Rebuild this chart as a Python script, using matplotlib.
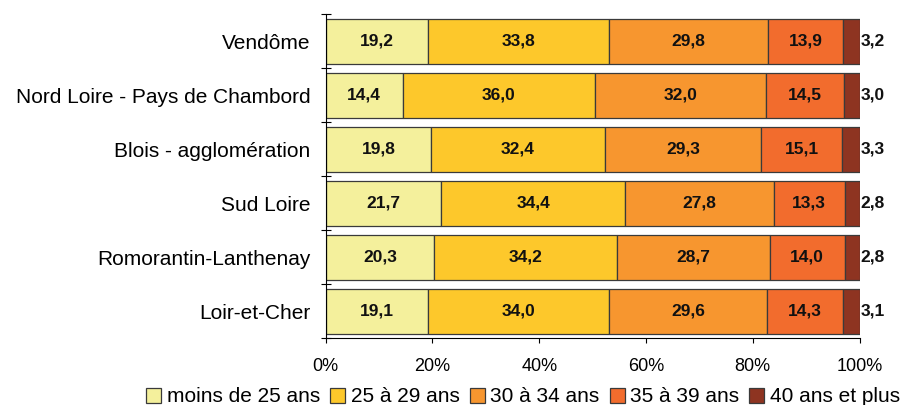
import numpy as np
import matplotlib.pyplot as plt

plt.rcParams['font.family'] = ['Liberation Sans', 'DejaVu Sans']

zones = ['Vendôme', 'Nord Loire - Pays de Chambord', 'Blois - agglomération',
         'Sud Loire', 'Romorantin-Lanthenay', 'Loir-et-Cher']
classes = ['moins de 25 ans', '25 à 29 ans', '30 à 34 ans', '35 à 39 ans', '40 ans et plus']
moins25 = [19.2, 14.4, 19.8, 21.7, 20.3, 19.1]
a25_29 = [33.8, 36.0, 32.4, 34.4, 34.2, 34.0]
a30_34 = [29.8, 32.0, 29.3, 27.8, 28.7, 29.6]
a35_39 = [13.9, 14.5, 15.1, 13.3, 14.0, 14.3]
plus40 = [3.2, 3.0, 3.3, 2.8, 2.8, 3.1]
colors = ['#F4F09C', '#FDC82B', '#F7962F', '#F26C2D', '#8E3421']

series = np.array([moins25, a25_29, a30_34, a35_39, plus40])
pct = series / series.sum(axis=0) * 100

fig = plt.figure(figsize=(9.02, 4.05), dpi=100)
ax = fig.add_axes([0.361, 0.165, 0.592, 0.8])

y = np.arange(len(zones))
left = np.zeros(len(zones))
for k in range(len(classes)):
    ax.barh(y, pct[k], left=left, height=0.83, color=colors[k],
            edgecolor='#3a3a3a', linewidth=0.9, label=classes[k])
    for i in range(len(zones)):
        txt = f"{series[k, i]:.1f}".replace('.', ',')
        if k == len(classes) - 1:
            ax.text(100.2, y[i], txt, ha='left', va='center',
                    fontsize=12.5, fontweight='bold', color='#111111')
        else:
            ax.text(left[i] + pct[k, i] / 2, y[i], txt, ha='center',
                    va='center', fontsize=12.5, fontweight='bold', color='#111111')
    left += pct[k]

ax.set_xlim(0, 100)
ax.set_ylim(len(zones) - 0.5, -0.5)
ax.set_xticks(np.arange(0, 101, 20))
ax.set_xticklabels([f"{v}%" for v in range(0, 101, 20)], fontsize=13)
ax.set_yticks(np.arange(-0.5, len(zones), 1))
ax.set_yticklabels([])
ax.set_yticks(y, minor=True)
ax.set_yticklabels(zones, minor=True, fontsize=15)
ax.tick_params(axis='y', which='minor', length=0, pad=11)
ax.tick_params(axis='y', which='major', length=7, direction='inout')
ax.tick_params(axis='x', length=3.6, direction='out', pad=11)
for s in ['top', 'right']:
    ax.spines[s].set_visible(False)

fig.legend(loc='center', bbox_to_anchor=(0.58, 0.02), ncol=5,
           frameon=False, fontsize=15, handlelength=0.72, handleheight=0.72,
           handletextpad=0.25, columnspacing=0.5, borderaxespad=0, borderpad=0)

fig.savefig('out.png', dpi=100)
